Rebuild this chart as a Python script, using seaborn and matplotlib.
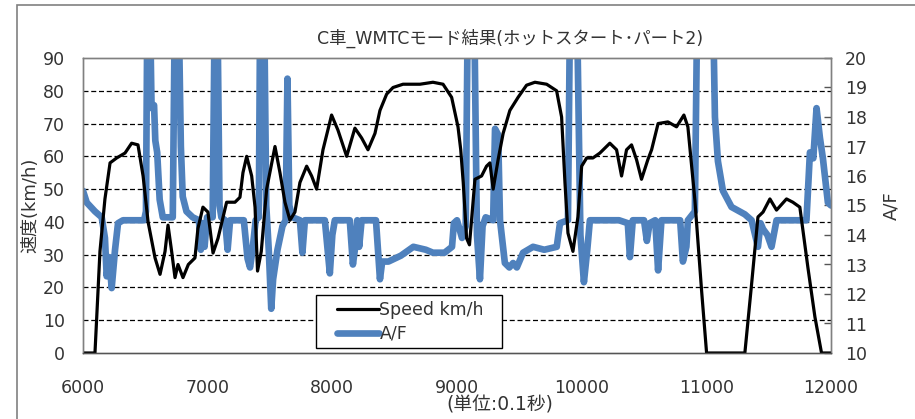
import matplotlib
matplotlib.use("Agg")
import numpy as np
import pandas as pd
import seaborn as sns
import matplotlib.pyplot as plt
from matplotlib.patches import Rectangle
from matplotlib.lines import Line2D
from matplotlib.legend_handler import HandlerLine2D

# ---------------- data ----------------
title = "C車_WMTCモード結果(ホットスタート･パート2)"
left_label = "速度(km/h)"
right_label = "A/F"
x_label = "(単位:0.1秒)"
speed_name = "Speed km/h"
af_name = "A/F"

x_ticks = [6000, 7000, 8000, 9000, 10000, 11000, 12000]
speed_ticks = [0, 10, 20, 30, 40, 50, 60, 70, 80, 90]
af_ticks = [10, 11, 12, 13, 14, 15, 16, 17, 18, 19, 20]
grid_values = [10, 20, 30, 40, 50, 60, 70, 80]

speed_t = [6000, 6096, 6136, 6176, 6217, 6270, 6337, 6390, 6441, 6482, 6522, 6578,
           6618, 6658, 6682, 6711, 6738, 6762, 6802, 6845, 6898, 6922, 6962, 7002,
           7043, 7083, 7152, 7219, 7259, 7283, 7313, 7353, 7380, 7400, 7430, 7473,
           7540, 7580, 7620, 7660, 7700, 7740, 7794, 7834, 7874, 7925, 7994, 8045,
           8115, 8181, 8235, 8286, 8342, 8382, 8436, 8487, 8567, 8703, 8807, 8888,
           8957, 9008, 9030, 9050, 9077, 9100, 9144, 9197, 9237, 9264, 9290, 9330,
           9370, 9424, 9490, 9558, 9625, 9719, 9799, 9839, 9866, 9890, 9930, 9970,
           10000, 10040, 10090, 10146, 10226, 10280, 10320, 10360, 10400, 10440,
           10480, 10531, 10561, 10613, 10692, 10761, 10820, 10852, 10908, 10962,
           11002, 11309, 11363, 11414, 11455, 11510, 11563, 11643, 11694, 11750,
           11815, 11871, 11924, 12000]
speed_v = [0, 0, 31, 47, 58, 59.5, 61, 64, 63.5, 54, 40, 29,
           24, 31, 39, 31, 23, 27, 23, 27, 29, 38, 44.5, 43,
           30.5, 35, 46, 46, 47.5, 55, 60, 54, 44.5, 25, 31, 50,
           63, 55, 46, 40.5, 43, 52, 57, 54, 50, 62, 72.6, 68,
           60, 68.6, 65.6, 62, 67, 74, 79, 81, 82, 82, 82.6, 82,
           78, 69, 62, 52, 35, 33, 53, 54, 57, 58, 50, 59,
           67, 74, 78, 81.7, 82.6, 82, 80, 72, 52, 36.6, 31, 41.5,
           57, 59.5, 59.5, 61, 64, 62, 54, 62, 63.5, 59,
           53, 59, 62, 70, 70.5, 69, 72.6, 69, 46.7, 19,
           0, 0, 21, 41.5, 43, 47, 43.6, 47, 46, 44.5,
           26, 11, 0, 0]

af_t = [6000, 6030, 6096, 6150, 6176, 6190, 6210, 6230, 6257, 6281, 6321, 6490,
        6505, 6515, 6540, 6550, 6570, 6580, 6595, 6615, 6640, 6720, 6735, 6770,
        6785, 6800, 6830, 6880, 6930, 6945, 6960, 6975, 6995, 7040, 7055, 7080,
        7095, 7110, 7140, 7160, 7180, 7290, 7320, 7340, 7360, 7385, 7410, 7420,
        7455, 7470, 7490, 7510, 7525, 7560, 7600, 7625, 7640, 7655, 7680, 7740,
        7760, 7780, 7940, 7980, 8000, 8020, 8140, 8165, 8190, 8200, 8215, 8235,
        8350, 8382, 8400, 8450, 8550, 8650, 8750, 8807, 8900, 8960, 8975, 9000,
        9040, 9070, 9085, 9140, 9160, 9184, 9205, 9230, 9290, 9305, 9330, 9345,
        9384, 9420, 9450, 9480, 9530, 9610, 9700, 9800, 9826, 9890, 9905, 9965,
        9990, 10018, 10045, 10066, 10300, 10370, 10387, 10410, 10500, 10523, 10545,
        10590, 10613, 10640, 10790, 10812, 10840, 10852, 10908, 10925, 10960, 11040,
        11069, 11093, 11133, 11202, 11309, 11363, 11414, 11435, 11455, 11490, 11523,
        11563, 11803, 11831, 11858, 11884, 11911, 11935, 11975, 12000]
af_v = [15.5, 15.1, 14.8, 14.6, 13.9, 12.6, 13.25, 12.2, 13.5, 14.4, 14.5, 14.5,
        14.8, 21, 21, 18.3, 18.4, 17.2, 16.8, 15.2, 14.6, 14.6, 21, 21,
        17, 15.3, 14.8, 14.6, 14.5, 13.5, 14.4, 13.6, 14.6, 14.6, 21, 21,
        15.0, 14.6, 14.5, 13.5, 14.5, 14.5, 13.2, 12.9, 13.5, 14.5, 14.6, 21,
        21, 15, 13.5, 11.5, 12.5, 13.5, 14.3, 14.5, 19.3, 15.0, 14.6, 14.5,
        13.4, 14.5, 14.5, 12.7, 14.0, 14.5, 14.5, 13.0, 13.8, 14.5, 13.6, 14.5,
        14.5, 12.5, 13.1, 13.1, 13.3, 13.6, 13.5, 13.4, 13.4, 13.6, 14.4, 14.5,
        13.9, 14.3, 21, 21, 14.0, 12.5, 14.3, 14.6, 14.5, 17.6, 17.4, 14.5,
        13.05, 12.9, 13.05, 12.9, 13.4, 13.6, 13.5, 13.6, 14.4, 14.5, 21, 21,
        14.0, 12.4, 13.5, 14.5, 14.5, 14.4, 13.25, 14.5, 14.5, 13.8, 14.4,
        14.5, 12.8, 14.5, 14.5, 13.1, 13.6, 14.5, 14.8, 21, 25, 25,
        18.0, 16.5, 15.5, 14.95, 14.7, 14.5, 13.6, 14.4, 14.2, 14.0, 13.6,
        14.5, 14.5, 16.8, 16.6, 18.3, 17.3, 16.6, 15.1, 15.0]

# ---------------- styling ----------------
sns.set_style("white")
plt.rcParams["font.family"] = ["DejaVu Sans", "Noto Sans CJK JP"]
text_color = "#333333"
blue = "#4F81BD"

fig = plt.figure(figsize=(9.15, 4.19), dpi=100)
fig.patch.set_facecolor("white")
ax = fig.add_axes([83 / 915, 66 / 419, 748 / 915, 295 / 419])
ax2 = ax.twinx()

df_speed = pd.DataFrame({"t": speed_t, "v": speed_v})
df_af = pd.DataFrame({"t": af_t, "a": af_v})

sns.lineplot(data=df_speed, x="t", y="v", ax=ax, color="black", lw=2.3,
             legend=False, estimator=None)
sns.lineplot(data=df_af, x="t", y="a", ax=ax2, color=blue, lw=4.8,
             legend=False, estimator=None, solid_joinstyle="round")

ax.set_xlim(6000, 12000)
ax.set_ylim(0, 90)
ax2.set_ylim(10, 20)

# speed axis on top so the black line lies over the blue one
ax.set_zorder(ax2.get_zorder() + 1)
ax.patch.set_visible(False)

# dashed grid at speed ticks, drawn in the A/F axes (behind the blue line)
fig.canvas.draw()
for gv in grid_values:
    disp = ax.transData.transform((6000, gv))
    gy = ax2.transData.inverted().transform(disp)[1]
    ax2.axhline(gy, color="black", lw=0.9, ls=(0, (4, 2.2)), zorder=0.5)

ax.set_xticks(x_ticks)
ax.set_xticklabels([str(v) for v in x_ticks])
ax.set_yticks(speed_ticks)
ax.set_yticklabels([str(v) for v in speed_ticks])
ax2.set_yticks(af_ticks)
ax2.set_yticklabels([str(v) for v in af_ticks])

ax.tick_params(axis="x", direction="in", length=6, width=1, color="#555555",
               pad=19, labelsize=12.5, labelcolor=text_color)
ax.tick_params(axis="y", length=0, pad=13, labelsize=12.5, labelcolor=text_color)
ax2.tick_params(axis="y", direction="in", length=5, width=1, color="#555555",
                pad=10, labelsize=12.5, labelcolor=text_color)

for a in (ax, ax2):
    for s in a.spines.values():
        s.set_color("#808080")
        s.set_linewidth(1)
ax.spines["bottom"].set_color("#555555")

ax.set_xlabel("")
ax.set_ylabel(left_label, fontsize=13, color=text_color)
ax.yaxis.set_label_coords(-0.058, 0.5)
ax2.set_ylabel(right_label, fontsize=13, color=text_color, rotation=90)
ax2.yaxis.set_label_coords(1.068, 0.5)

ax.text(0.557, -0.175, x_label, transform=ax.transAxes, ha="center", va="center",
        fontsize=13.5, color=text_color)
fig.text(510 / 915, 1 - 38 / 419, title, ha="center", va="center",
         fontsize=12.5, color=text_color)

handles = [Line2D([], [], color="black", lw=2.3),
           Line2D([], [], color=blue, lw=4.8)]
leg = ax.legend(handles, [speed_name, af_name], loc="lower left",
                bbox_to_anchor=(0.3115, 0.017, 0.2485, 0.19), mode="expand",
                borderaxespad=0, fontsize=12.5, frameon=True, fancybox=False,
                edgecolor="black", facecolor="white", framealpha=1,
                handlelength=3.3, handletextpad=0.05, labelspacing=0.35,
                borderpad=0.3,
                handler_map={Line2D: HandlerLine2D(xpad=0.9)})
leg.get_frame().set_linewidth(1)
for t in leg.get_texts():
    t.set_color(text_color)

# outer chart-area border
fig.patches.append(Rectangle((17 / 915, -0.5), 2, 1 - 5 / 419 + 0.5,
                             transform=fig.transFigure, fill=False,
                             edgecolor="#808080", lw=1.2))

fig.savefig("out.png", dpi=100)
